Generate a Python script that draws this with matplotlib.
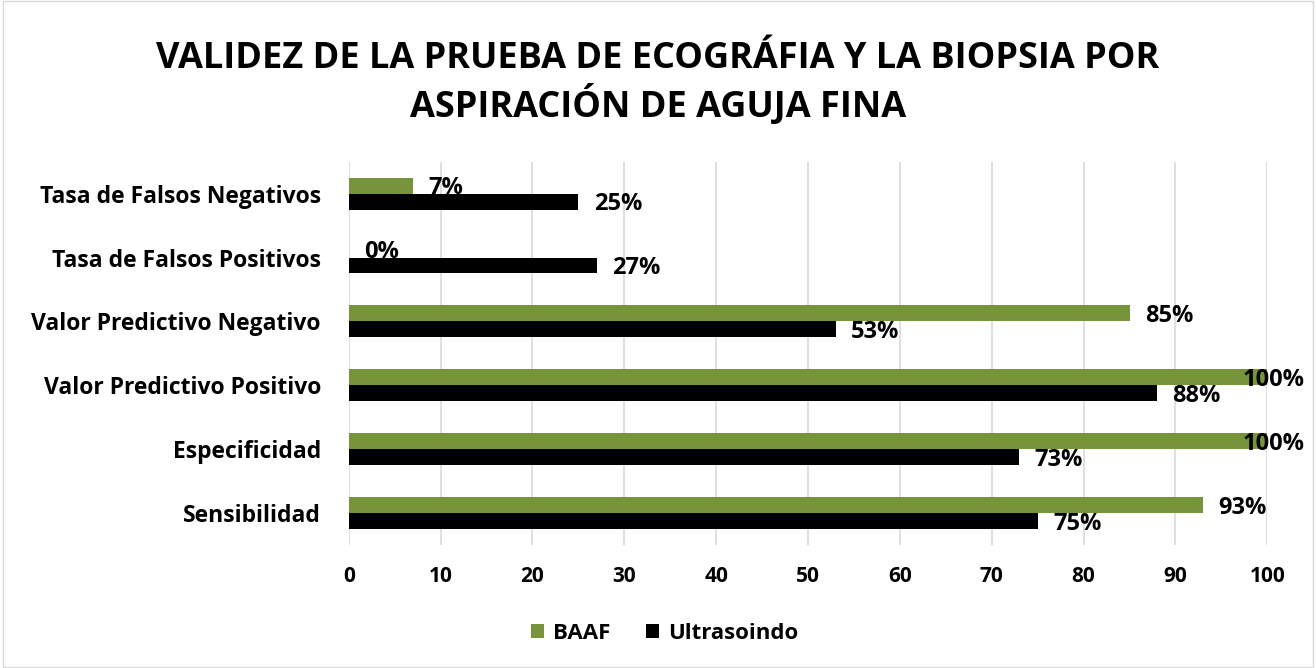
import numpy as np
import matplotlib
matplotlib.use("Agg")
import matplotlib.pyplot as plt
from matplotlib.patches import Rectangle

plt.rcParams['font.family'] = ['Open Sans', 'DejaVu Sans']
plt.rcParams['font.weight'] = 'bold'

categories = ["Sensibilidad", "Especificidad", "Valor Predictivo Positivo",
              "Valor Predictivo Negativo", "Tasa de Falsos Positivos",
              "Tasa de Falsos Negativos"]
baaf = [93, 100, 100, 85, 0, 7]
ultrasonido = [75, 73, 88, 53, 27, 25]
series_names = ["BAAF", "Ultrasoindo"]

GREEN = "#77933C"
BLACK = "#000000"

fig = plt.figure(figsize=(13.16, 6.68), dpi=100)
ax = fig.add_axes([0.265, 0.184, 0.698, 0.574])

y = np.arange(len(categories))
h = 0.25
b1 = ax.barh(y + h / 2, baaf, height=h, color=GREEN, label=series_names[0], zorder=3)
b2 = ax.barh(y - h / 2, ultrasonido, height=h, color=BLACK, label=series_names[1], zorder=4)

# data labels (green ones sit under the black bars, like the original)
for bars, vals, z in ((b1, baaf, 3.5), (b2, ultrasonido, 5)):
    for bar, v in zip(bars, vals):
        yc = bar.get_y() + bar.get_height() / 2
        dx = -18 if v >= 100 else 11
        ax.annotate(f"{v}%", xy=(v, yc), xytext=(dx, -2), textcoords="offset points",
                    ha="left", va="center", fontsize=17, fontweight="bold",
                    color="black", zorder=z, annotation_clip=False)

ax.set_xlim(0, 100)
ax.set_ylim(-0.5, len(categories) - 0.5)
ax.set_xticks(np.arange(0, 101, 10))
ax.set_yticks(y)
ax.set_yticklabels(categories, fontsize=16.5, fontweight="bold")
ax.tick_params(axis="x", labelsize=15, length=0, pad=15)
ax.tick_params(axis="y", length=0, pad=20)
ax.grid(axis="x", color="#d9d9d9", linewidth=1.2, zorder=0)
for s in ax.spines.values():
    s.set_visible(False)

fig.text(0.5, 0.875, "VALIDEZ DE LA PRUEBA DE ECOGRÁFIA Y LA BIOPSIA POR\nASPIRACIÓN DE AGUJA FINA",
         ha="center", va="center", fontsize=26, fontweight="bold", linespacing=1.25)

fig.legend(handles=[b1, b2], labels=series_names, loc="center", bbox_to_anchor=(0.505, 0.052),
           ncol=2, frameon=False, fontsize=16, handlelength=0.6, handleheight=0.6,
           columnspacing=1.6, handletextpad=0.4)

fig.patches.append(Rectangle((0.002, 0.002), 0.996, 0.996, transform=fig.transFigure,
                             fill=False, edgecolor="#d9d9d9", linewidth=1))

fig.savefig("out.png", dpi=100)
